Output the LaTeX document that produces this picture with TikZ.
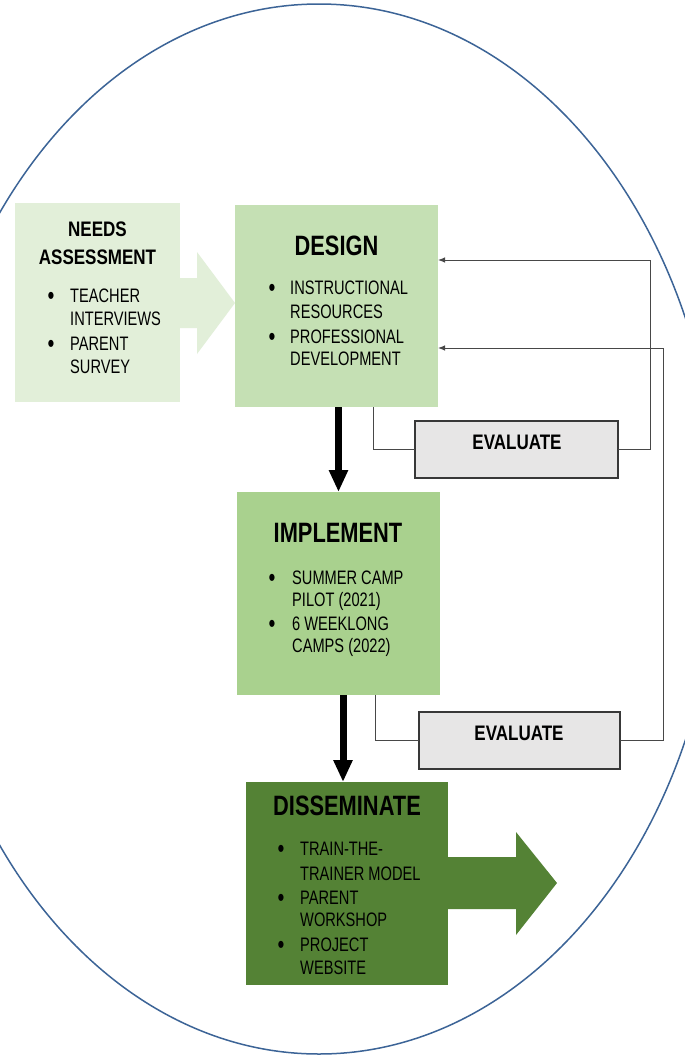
\documentclass[tikz,border=0pt]{standalone}
\usepackage{fontspec}
\setmainfont{Liberation Sans}
\newfontfamily\regf[FakeStretch=0.75]{Liberation Sans}
\newfontfamily\headf[FakeStretch=0.78]{Liberation Sans}
\newfontfamily\subf[FakeStretch=0.81]{Liberation Sans}
\usetikzlibrary{arrows.meta}
\definecolor{needsc}{HTML}{E2EFD9}
\definecolor{designc}{HTML}{C5E0B4}
\definecolor{implc}{HTML}{A9D18E}
\definecolor{dissc}{HTML}{548235}
\definecolor{evalc}{HTML}{E7E6E6}
\definecolor{ellc}{HTML}{3C6497}
\definecolor{linec}{HTML}{484848}
\tikzset{
  box/.style={draw=none, inner sep=0pt, outer sep=0pt, anchor=north west},
  evalbox/.style={draw=black!78, line width=1.2pt, fill=evalc, inner sep=0pt, outer sep=0pt, anchor=north west},
  txt/.style={font=\regf\fontsize{19.5}{23}\selectfont, inner sep=0pt, anchor=base west},
  bul/.style={font=\regf\fontsize{26}{28}\selectfont, inner sep=0pt, anchor=base, yshift=-2.5pt},
  head/.style={font=\headf\bfseries\fontsize{28}{32}\selectfont, inner sep=0pt, anchor=base},
  subhead/.style={font=\subf\bfseries\fontsize{21}{24}\selectfont, inner sep=0pt, anchor=base},
  fb/.style={draw=linec, line width=1pt},
  fbarr/.style={fb, -{Latex[length=7pt,width=5.5pt]}},
  bigarr/.style={draw=black, line width=7pt, -{Triangle[length=22pt,width=18pt]}}
}
\begin{document}
\begin{tikzpicture}[x=1pt,y=-1pt]
\useasboundingbox (0,0) rectangle (685,1055);
\fill[white] (0,0) rectangle (685,1055);
\clip (0,0) rectangle (685,1055);

% outer ellipse
\draw[ellc, line width=1.5pt] (319,529) ellipse [x radius=400pt, y radius=525pt];

% block arrows
\fill[needsc] (175,278) -- (197,278) -- (197,252) -- (235,303) -- (197,354) -- (197,328) -- (175,328) -- cycle;
\fill[dissc] (440,857) -- (516,857) -- (516,832) -- (557,883) -- (516,935) -- (516,909) -- (440,909) -- cycle;

% boxes
\node[box, fill=needsc, minimum width=165pt, minimum height=199pt] (needs) at (15,203) {};
\node[box, fill=designc, minimum width=203pt, minimum height=202pt] (design) at (235,205) {};
\node[box, fill=implc, minimum width=203pt, minimum height=203pt] (impl) at (237,492) {};
\node[box, fill=dissc, minimum width=202pt, minimum height=203pt] (diss) at (246,782) {};
\node[evalbox, minimum width=203pt, minimum height=57pt] (evalA) at (415,421) {};
\node[evalbox, minimum width=201pt, minimum height=57pt] (evalB) at (419,712) {};

% main flow arrows
\draw[bigarr] (impl.north |- design.south) -- (impl.north);
\draw[bigarr] ([xshift=4.5pt]impl.south) -- ([xshift=-4pt]diss.north);

% feedback connectors
\draw[fb] ([xshift=138pt]design.south west) |- (evalA.west);
\draw[fbarr] (evalA.east) -| ([xshift=212pt,yshift=-55pt]design.north east) -- ([yshift=-55pt]design.north east);
\draw[fb] ([xshift=138pt]impl.south west) |- (evalB.west);
\draw[fbarr] (evalB.east) -| ([xshift=225pt,yshift=-143pt]design.north east) -- ([yshift=-143pt]design.north east);

% headings
\node[subhead] (nh1) at (97.5,236.5) {NEEDS};
\node[subhead] (nh2) at (97.5,264.5) {ASSESSMENT};
\node[head] (dh) at (336.5,255) {DESIGN};
\node[head] (ih) at (338,542) {IMPLEMENT};
\node[head] (sh) at (347,815) {DISSEMINATE};
\node[subhead] (eA) at (517,449.5) {EVALUATE};
\node[subhead] (eB) at (519,740.5) {EVALUATE};

% needs assessment items
\node[bul] (nb1) at (51,302) {•};
\node[txt] (n1) at (70,302) {TEACHER};
\node[txt] (n2) at (70,325) {INTERVIEWS};
\node[bul] (nb2) at (51,350) {•};
\node[txt] (n3) at (70,350) {PARENT};
\node[txt] (n4) at (70,373) {SURVEY};

% design items
\node[bul] (db1) at (272,294) {•};
\node[txt] (d1) at (290,294) {INSTRUCTIONAL};
\node[txt] (d2) at (290,318) {RESOURCES};
\node[bul] (db2) at (272,343) {•};
\node[txt] (d3) at (290,343) {PROFESSIONAL};
\node[txt] (d4) at (290,365) {DEVELOPMENT};

% implement items
\node[bul] (ib1) at (272,584) {•};
\node[txt] (i1) at (292,584) {SUMMER CAMP};
\node[txt] (i2) at (292,606) {PILOT (2021)};
\node[bul] (ib2) at (272,630) {•};
\node[txt] (i3) at (292,630) {6 WEEKLONG};
\node[txt] (i4) at (292,652) {CAMPS (2022)};

% disseminate items
\node[bul] (sb1) at (281,855) {•};
\node[txt] (s1) at (300,855) {TRAIN-THE-};
\node[txt] (s2) at (300,880) {TRAINER MODEL};
\node[bul] (sb2) at (281,904) {•};
\node[txt] (s3) at (300,904) {PARENT};
\node[txt] (s4) at (300,926) {WORKSHOP};
\node[bul] (sb3) at (281,951) {•};
\node[txt] (s5) at (300,951) {PROJECT};
\node[txt] (s6) at (300,974) {WEBSITE};
\end{tikzpicture}
\end{document}
